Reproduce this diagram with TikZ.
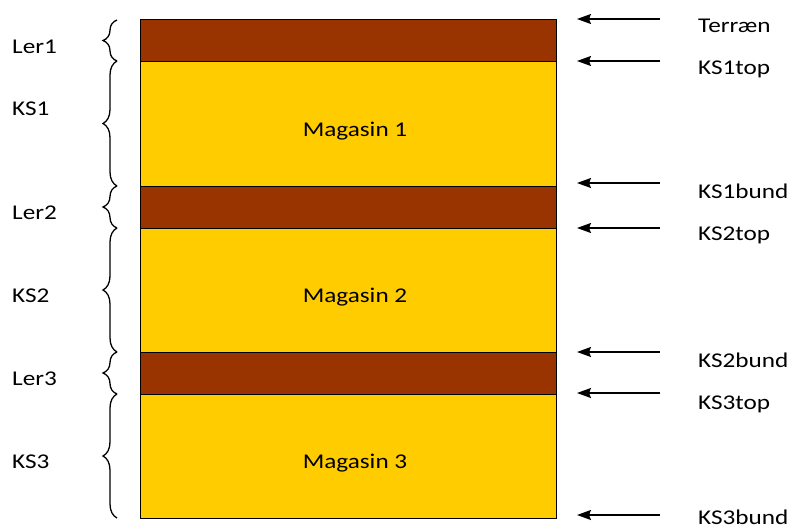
\documentclass[tikz,border=0pt]{standalone}
\usepackage{fontspec}
\setmainfont{Carlito}[FakeStretch=1.2]
\usetikzlibrary{decorations.pathreplacing,arrows.meta}
\definecolor{clay}{HTML}{993300}
\definecolor{sand}{HTML}{FFCC00}
\begin{document}
\begin{tikzpicture}[x=1pt,y=-1pt,
  every node/.style={font=\fontsize{21}{25}\selectfont, inner sep=0pt},
  layer/.style={draw=black, line width=1pt, minimum width=416pt, anchor=north west, inner sep=0pt},
  lerlayer/.style={layer, fill=clay, minimum height=42pt},
  kslayer/.style={layer, fill=sand, minimum height=#1},
  brc/.style={decorate, decoration={brace, amplitude=14pt, aspect=0.5}, line width=1.3pt},
  ptr/.style={-{Stealth[length=14pt,width=10pt,inset=2pt]}, line width=1.6pt},
  lbl/.style={anchor=base west}]
\useasboundingbox (0,0) rectangle (792,528);
% layers
\node[lerlayer] (ler1) at (140,19) {};
\node[kslayer=125pt] (ks1) at (140,61) {};
\node[lerlayer] (ler2) at (140,186) {};
\node[kslayer=124pt] (ks2) at (140,228) {};
\node[lerlayer] (ler3) at (140,352) {};
\node[kslayer=124pt] (ks3) at (140,394) {};
% magasin labels
\node[anchor=base] (m1) at (355,136) {Magasin 1};
\node[anchor=base] (m2) at (355,302) {Magasin 2};
\node[anchor=base] (m3) at (355,468) {Magasin 3};
% braces
\coordinate (b0) at (117,20);
\coordinate (b1) at (117,61);
\coordinate (b2) at (117,186);
\coordinate (b3) at (117,228);
\coordinate (b4) at (117,352);
\coordinate (b5) at (117,394);
\coordinate (b6) at (117,518);
\draw[brc] (b1) -- (b0);
\draw[brc] (b2) -- (b1);
\draw[brc] (b3) -- (b2);
\draw[brc] (b4) -- (b3);
\draw[brc] (b5) -- (b4);
\draw[brc] (b6) -- (b5);
% left labels
\node[lbl] (tler1) at (12,53) {Ler1};
\node[lbl] (tks1) at (12,115) {KS1};
\node[lbl] (tler2) at (12,219) {Ler2};
\node[lbl] (tks2) at (12,302) {KS2};
\node[lbl] (tler3) at (12,385) {Ler3};
\node[lbl] (tks3) at (12,468) {KS3};
% arrows
\foreach \n/\y in {a/19, b/61, c/183, d/228, e/352, f/393, g/515}{
  \coordinate (t\n) at (660,\y);
  \coordinate (h\n) at (577,\y);
  \draw[ptr] (t\n) -- (h\n);
}
% right labels
\node[lbl] (r1) at (698,32) {Terræn};
\node[lbl] (r2) at (698,74) {KS1top};
\node[lbl] (r3) at (698,198) {KS1bund};
\node[lbl] (r4) at (698,240) {KS2top};
\node[lbl] (r5) at (698,367) {KS2bund};
\node[lbl] (r6) at (698,409) {KS3top};
\node[lbl] (r7) at (698,524) {KS3bund};
\end{tikzpicture}
\end{document}
